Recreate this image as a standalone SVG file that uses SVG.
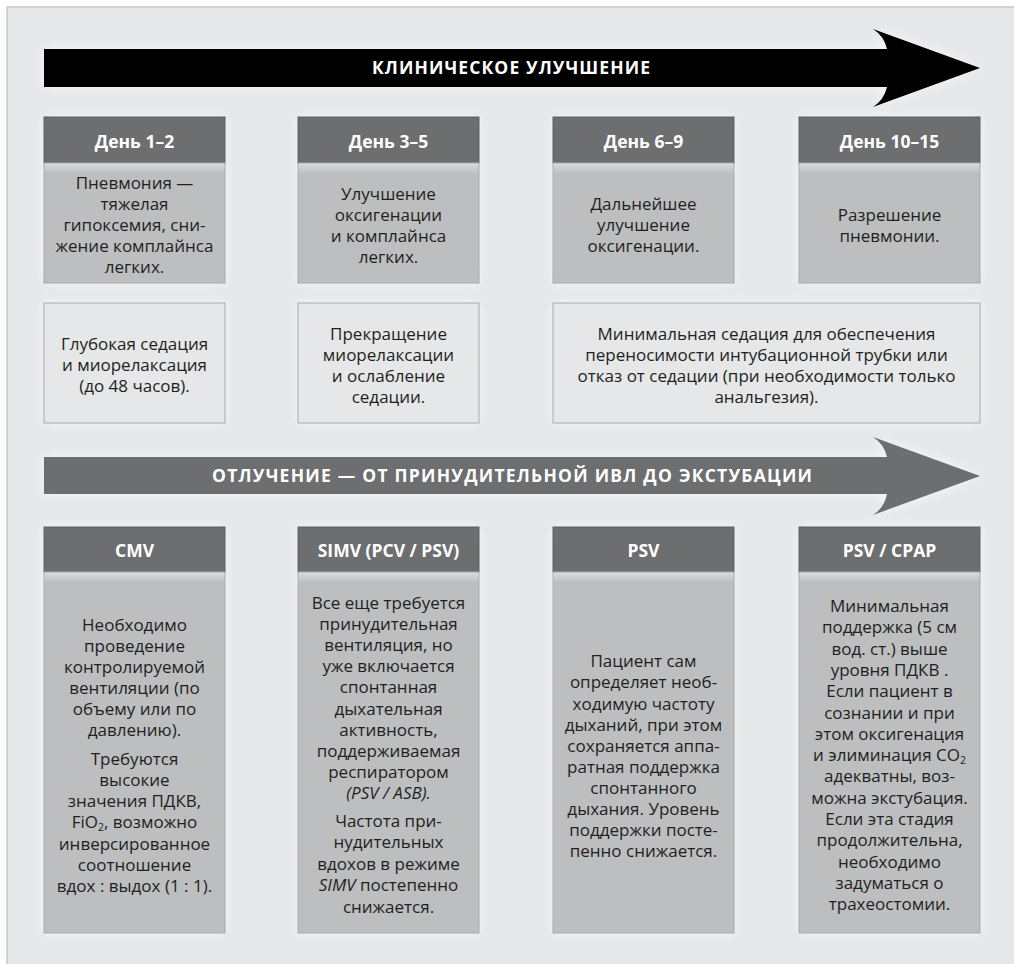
<svg xmlns="http://www.w3.org/2000/svg" width="1014" height="964" viewBox="0 0 1014 964">
<defs>
<filter id="glow" x="-20%" y="-20%" width="140%" height="140%"><feGaussianBlur stdDeviation="6"/></filter>
<linearGradient id="topShade" x1="0" y1="0" x2="0" y2="1">
<stop offset="0" stop-color="#ffffff" stop-opacity="0.45"/>
<stop offset="1" stop-color="#ffffff" stop-opacity="0"/>
</linearGradient>
<style>
.glow{fill:#ffffff;opacity:0.8;filter:url(#glow)}
.hd{fill:#6d6e70;stroke:#5d5e60;stroke-width:1}
.tb{fill:#bcbec0;stroke:#a7a9ac;stroke-width:1}
.sd{fill:#e6e7e8;stroke:#a7a9ac;stroke-width:1}
.sh{fill:url(#topShade)}
.ht{font-family:"Open Sans","Noto Sans",sans-serif;font-weight:700;font-size:17.5px;fill:#ffffff;text-anchor:middle}
.bt{font-family:"Open Sans","Noto Sans",sans-serif;font-size:17px;fill:#231f20;text-anchor:middle}
.at{font-family:"Open Sans","Noto Sans",sans-serif;font-weight:700;font-size:17.5px;fill:#ffffff;text-anchor:middle}
.it{font-style:italic}
.sub{font-size:10.5px}
</style>
</defs>
<rect x="0" y="0" width="1014" height="964" fill="#ffffff"/>
<rect x="7" y="7" width="1030" height="980" fill="#e6e7e8" stroke="#c7c8ca" stroke-width="1.5"/>

<g id="connectors">
<g id="arrow-clinical">
<path class="glow" d="M44,49 L887,49 Q884,36 873,29 L980,68 L873,107 Q884,100 887,87 L44,87 Z"/>
<path d="M44,49 L887,49 Q884,36 873,29 L980,68 L873,107 Q884,100 887,87 L44,87 Z" fill="#000000"/>
<text class="at" x="511" y="74" textLength="278" lengthAdjust="spacing">КЛИНИЧЕСКОЕ УЛУЧШЕНИЕ</text>
</g>
<g id="arrow-weaning">
<path class="glow" d="M44,457 L887,457 Q884,444 873,437 L980,476 L873,515 Q884,508 887,494 L44,494 Z"/>
<path d="M44,457 L887,457 Q884,444 873,437 L980,476 L873,515 Q884,508 887,494 L44,494 Z" fill="#6d6e70"/>
<text class="at" x="512" y="482" textLength="600" lengthAdjust="spacing">ОТЛУЧЕНИЕ — ОТ ПРИНУДИТЕЛЬНОЙ ИВЛ ДО ЭКСТУБАЦИИ</text>
</g>
</g>

<g id="day1">
<rect class="glow" x="44" y="117" width="181" height="166"/>
<rect class="hd" x="44" y="117" width="181" height="46"/>
<text class="ht" x="134.5" y="148">День 1–2</text>
<rect class="tb" x="44" y="163" width="181" height="120"/>
<rect class="sh" x="44.5" y="163.5" width="180" height="10"/>
<text class="bt" x="134.5" y="189">Пневмония —</text>
<text class="bt" x="134.5" y="210">тяжелая</text>
<text class="bt" x="134.5" y="231">гипоксемия, сни-</text>
<text class="bt" x="134.5" y="252">жение комплайнса</text>
<text class="bt" x="134.5" y="273">легких.</text>
</g>
<g id="day3">
<rect class="glow" x="298" y="117" width="181" height="166"/>
<rect class="hd" x="298" y="117" width="181" height="46"/>
<text class="ht" x="388.5" y="148">День 3–5</text>
<rect class="tb" x="298" y="163" width="181" height="120"/>
<rect class="sh" x="298.5" y="163.5" width="180" height="10"/>
<text class="bt" x="388.5" y="200">Улучшение</text>
<text class="bt" x="388.5" y="221">оксигенации</text>
<text class="bt" x="388.5" y="242">и комплайнса</text>
<text class="bt" x="388.5" y="263">легких.</text>
</g>
<g id="day6">
<rect class="glow" x="553" y="117" width="181" height="166"/>
<rect class="hd" x="553" y="117" width="181" height="46"/>
<text class="ht" x="643.5" y="148">День 6–9</text>
<rect class="tb" x="553" y="163" width="181" height="120"/>
<rect class="sh" x="553.5" y="163.5" width="180" height="10"/>
<text class="bt" x="643.5" y="210">Дальнейшее</text>
<text class="bt" x="643.5" y="231">улучшение</text>
<text class="bt" x="643.5" y="252">оксигенации.</text>
</g>
<g id="day10">
<rect class="glow" x="799" y="117" width="181" height="166"/>
<rect class="hd" x="799" y="117" width="181" height="46"/>
<text class="ht" x="889.5" y="148">День 10–15</text>
<rect class="tb" x="799" y="163" width="181" height="120"/>
<rect class="sh" x="799.5" y="163.5" width="180" height="10"/>
<text class="bt" x="889.5" y="221">Разрешение</text>
<text class="bt" x="889.5" y="242">пневмонии.</text>
</g>

<g id="sedation1">
<rect class="glow" x="44" y="303" width="181" height="120"/>
<rect class="sd" x="44" y="303" width="181" height="120"/>
<text class="bt" x="134.5" y="350">Глубокая седация</text>
<text class="bt" x="134.5" y="371">и миорелаксация</text>
<text class="bt" x="134.5" y="392">(до 48 часов).</text>
</g>
<g id="sedation2">
<rect class="glow" x="298" y="303" width="181" height="120"/>
<rect class="sd" x="298" y="303" width="181" height="120"/>
<text class="bt" x="388.5" y="340">Прекращение</text>
<text class="bt" x="388.5" y="361">миорелаксации</text>
<text class="bt" x="388.5" y="382">и ослабление</text>
<text class="bt" x="388.5" y="403">седации.</text>
</g>
<g id="sedation3">
<rect class="glow" x="553" y="303" width="427" height="120"/>
<rect class="sd" x="553" y="303" width="427" height="120"/>
<text class="bt" x="766.5" y="340">Минимальная седация для обеспечения</text>
<text class="bt" x="766.5" y="361">переносимости интубационной трубки или</text>
<text class="bt" x="766.5" y="382">отказ от седации (при необходимости только</text>
<text class="bt" x="766.5" y="403">анальгезия).</text>
</g>

<g id="cmv">
<rect class="glow" x="44" y="527" width="181" height="406"/>
<rect class="hd" x="44" y="527" width="181" height="45"/>
<text class="ht" x="134.5" y="557">CMV</text>
<rect class="tb" x="44" y="572" width="181" height="361"/>
<rect class="sh" x="44.5" y="572.5" width="180" height="10"/>
<text class="bt" x="134.5" y="631">Необходимо</text>
<text class="bt" x="134.5" y="652">проведение</text>
<text class="bt" x="134.5" y="673">контролируемой</text>
<text class="bt" x="134.5" y="694">вентиляции (по</text>
<text class="bt" x="134.5" y="715">объему или по</text>
<text class="bt" x="134.5" y="736">давлению).</text>
<text class="bt" x="134.5" y="765">Требуются</text>
<text class="bt" x="134.5" y="786">высокие</text>
<text class="bt" x="134.5" y="807">значения ПДКВ,</text>
<text class="bt" x="134.5" y="828">FiO<tspan class="sub" dy="3">2</tspan><tspan dy="-3">, возможно</tspan></text>
<text class="bt" x="134.5" y="850">инверсированное</text>
<text class="bt" x="134.5" y="871">соотношение</text>
<text class="bt" x="134.5" y="892">вдох : выдох (1 : 1).</text>
</g>
<g id="simv">
<rect class="glow" x="298" y="527" width="181" height="406"/>
<rect class="hd" x="298" y="527" width="181" height="45"/>
<text class="ht" x="388.5" y="557">SIMV (PCV / PSV)</text>
<rect class="tb" x="298" y="572" width="181" height="361"/>
<rect class="sh" x="298.5" y="572.5" width="180" height="10"/>
<text class="bt" x="388.5" y="609">Все еще требуется</text>
<text class="bt" x="388.5" y="630">принудительная</text>
<text class="bt" x="388.5" y="651">вентиляция, но</text>
<text class="bt" x="388.5" y="672">уже включается</text>
<text class="bt" x="388.5" y="693">спонтанная</text>
<text class="bt" x="388.5" y="715">дыхательная</text>
<text class="bt" x="388.5" y="736">активность,</text>
<text class="bt" x="388.5" y="757">поддерживаемая</text>
<text class="bt" x="388.5" y="778">респиратором</text>
<text class="bt it" x="388.5" y="799">(PSV / ASB).</text>
<text class="bt" x="388.5" y="827">Частота при-</text>
<text class="bt" x="388.5" y="848">нудительных</text>
<text class="bt" x="388.5" y="870">вдохов в режиме</text>
<text class="bt" x="388.5" y="891"><tspan class="it">SIMV</tspan> постепенно</text>
<text class="bt" x="388.5" y="913">снижается.</text>
</g>
<g id="psv">
<rect class="glow" x="553" y="527" width="181" height="406"/>
<rect class="hd" x="553" y="527" width="181" height="45"/>
<text class="ht" x="643.5" y="557">PSV</text>
<rect class="tb" x="553" y="572" width="181" height="361"/>
<rect class="sh" x="553.5" y="572.5" width="180" height="10"/>
<text class="bt" x="643.5" y="667">Пациент сам</text>
<text class="bt" x="643.5" y="688">определяет необ-</text>
<text class="bt" x="643.5" y="710">ходимую частоту</text>
<text class="bt" x="643.5" y="731">дыханий, при этом</text>
<text class="bt" x="643.5" y="752">сохраняется аппа-</text>
<text class="bt" x="643.5" y="773">ратная поддержка</text>
<text class="bt" x="643.5" y="794">спонтанного</text>
<text class="bt" x="643.5" y="815">дыхания. Уровень</text>
<text class="bt" x="643.5" y="836">поддержки посте-</text>
<text class="bt" x="643.5" y="857">пенно снижается.</text>
</g>
<g id="psv-cpap">
<rect class="glow" x="799" y="527" width="181" height="406"/>
<rect class="hd" x="799" y="527" width="181" height="45"/>
<text class="ht" x="889.5" y="557">PSV / CPAP</text>
<rect class="tb" x="799" y="572" width="181" height="361"/>
<rect class="sh" x="799.5" y="572.5" width="180" height="10"/>
<text class="bt" x="889.5" y="612">Минимальная</text>
<text class="bt" x="889.5" y="633">поддержка (5 см</text>
<text class="bt" x="889.5" y="655">вод. ст.) выше</text>
<text class="bt" x="889.5" y="676">уровня ПДКВ .</text>
<text class="bt" x="889.5" y="697">Если пациент в</text>
<text class="bt" x="889.5" y="719">сознании и при</text>
<text class="bt" x="889.5" y="740">этом оксигенация</text>
<text class="bt" x="889.5" y="761">и элиминация CO<tspan class="sub" dy="3">2</tspan></text>
<text class="bt" x="889.5" y="782">адекватны, воз-</text>
<text class="bt" x="889.5" y="804">можна экстубация.</text>
<text class="bt" x="889.5" y="825">Если эта стадия</text>
<text class="bt" x="889.5" y="846">продолжительна,</text>
<text class="bt" x="889.5" y="868">необходимо</text>
<text class="bt" x="889.5" y="889">задуматься о</text>
<text class="bt" x="889.5" y="910">трахеостомии.</text>
</g>
</svg>
